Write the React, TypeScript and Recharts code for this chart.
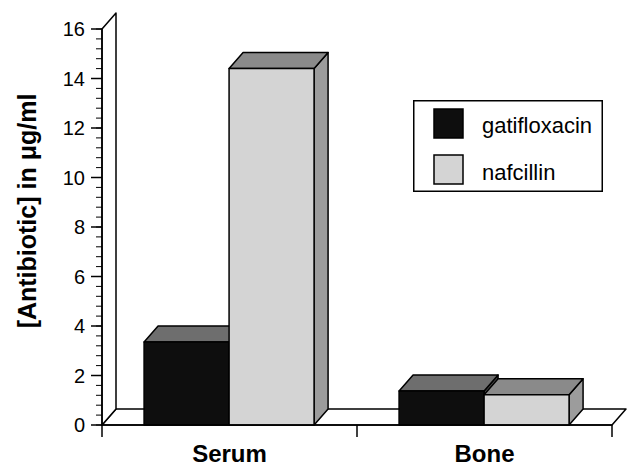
import { BarChart, Bar, XAxis, YAxis, Legend, ReferenceArea } from "recharts";

const categories = ["Serum", "Bone"];
const gatifloxacin = [3.35, 1.37];
const nafcillin = [14.4, 1.22];
const Y_MAX = 16;
const yTicks = [0, 2, 4, 6, 8, 10, 12, 14, 16];
const minorTicks = Array.from({ length: 41 }, (_, i) => Math.round(i * 4) / 10);

const series = [
  { key: "gatifloxacin", front: "#0e0e0e", top: "#6e6e6e", side: "#4a4a4a" },
  { key: "nafcillin", front: "#d4d4d4", top: "#8a8a8a", side: "#9c9c9c" },
];

const data = categories.map((name, i) => ({
  name,
  gatifloxacin: gatifloxacin[i],
  nafcillin: nafcillin[i],
}));

// depth of the fake 3d
const DX = 14;
const DY = -16;
const FONT = "'Liberation Sans', Arial, sans-serif";

function Box3D(props: any) {
  const { x, y, width: w, height: h, colors } = props;
  if (!w || h == null) return null;
  return (
    <g stroke="#000" strokeWidth={1.5} strokeLinejoin="round">
      <polygon
        points={`${x + w},${y} ${x + w + DX},${y + DY} ${x + w + DX},${y + h + DY} ${x + w},${y + h}`}
        fill={colors.side}
      />
      <polygon
        points={`${x},${y} ${x + DX},${y + DY} ${x + w + DX},${y + DY} ${x + w},${y}`}
        fill={colors.top}
      />
      <rect x={x} y={y} width={w} height={h} fill={colors.front} />
    </g>
  );
}

// back wall + floor, plus the minor y ticks and the category boundary ticks
function Walls(props: any) {
  const { x, y, width, height } = props;
  const b = y + height;
  const r = x + width;
  const n = categories.length;
  return (
    <g>
      <g stroke="#000" strokeWidth={1.5} fill="#fff" strokeLinejoin="round">
        <polygon points={`${x},${b} ${r},${b} ${r + DX},${b + DY} ${x + DX},${b + DY}`} />
        <polygon points={`${x},${b} ${x},${y} ${x + DX},${y + DY} ${x + DX},${b + DY}`} />
      </g>
      <g stroke="#000" strokeWidth={1}>
        {minorTicks.map((t) => {
          const ty = b - (t / Y_MAX) * height;
          return <line key={t} x1={x - 6} x2={x} y1={ty} y2={ty} />;
        })}
      </g>
      <g stroke="#000" strokeWidth={1.5}>
        {Array.from({ length: n + 1 }, (_, k) => {
          const tx = x + (k * width) / n;
          return <line key={k} x1={tx} x2={tx} y1={b} y2={b + 12} />;
        })}
      </g>
    </g>
  );
}

function YLabel(props: any) {
  const vb = props.viewBox || { x: 0, y: 29, width: 102, height: 396 };
  const cx = vb.x + 27;
  const cy = vb.y + vb.height / 2 - 16;
  return (
    <text
      x={cx}
      y={cy}
      transform={`rotate(-90, ${cx}, ${cy})`}
      textAnchor="middle"
      dominantBaseline="central"
      fontFamily={FONT}
      fontWeight="bold"
      fontSize={25}
      fill="#000"
    >
      [Antibiotic] in μg/ml
    </text>
  );
}

function LegendBox() {
  return (
    <svg width={190} height={92}>
      <rect x={0.75} y={0.75} width={188.5} height={90.5} fill="#fff" stroke="#000" strokeWidth={1.5} />
      {series.map((s, i) => (
        <g key={s.key}>
          <rect x={21} y={9 + i * 46} width={29} height={29} fill={s.front} stroke="#000" strokeWidth={1.5} />
          <text x={69} y={33 + i * 47} fontFamily={FONT} fontSize={22} fill="#000">
            {s.key}
          </text>
        </g>
      ))}
    </svg>
  );
}

export default function App() {
  return (
    <div style={{ position: "fixed", left: 0, top: 0, background: "#fff" }}>
      <BarChart
        width={644}
        height={466}
        data={data}
        margin={{ top: 29, right: 32, bottom: 0, left: 0 }}
        barCategoryGap="16.5%"
        barGap={0}
      >
        <ReferenceArea y1={0} y2={Y_MAX} shape={<Walls />} zIndex={-1} />
        <XAxis
          dataKey="name"
          height={41}
          tickLine={false}
          tickSize={12}
          tickMargin={8}
          axisLine={{ stroke: "#000", strokeWidth: 1.5 }}
          tick={{ fill: "#000", fontSize: 24, fontWeight: "bold", fontFamily: FONT }}
        />
        <YAxis
          width={102}
          domain={[0, Y_MAX]}
          ticks={yTicks}
          interval={0}
          tickSize={11}
          tickMargin={6}
          axisLine={{ stroke: "#000", strokeWidth: 1.5 }}
          tickLine={{ stroke: "#000", strokeWidth: 1.5 }}
          tick={{ fill: "#000", fontSize: 20, fontFamily: FONT }}
          label={<YLabel />}
        />
        {series.map((s) => (
          <Bar
            key={s.key}
            dataKey={s.key}
            fill={s.front}
            isAnimationActive={false}
            shape={(p: any) => <Box3D {...p} colors={s} />}
          />
        ))}
        <Legend
          layout="horizontal"
          align="center"
          verticalAlign="middle"
          wrapperStyle={{ left: 413, top: 100, width: 190, height: 92 }}
          content={() => <LegendBox />}
        />
      </BarChart>
    </div>
  );
}
